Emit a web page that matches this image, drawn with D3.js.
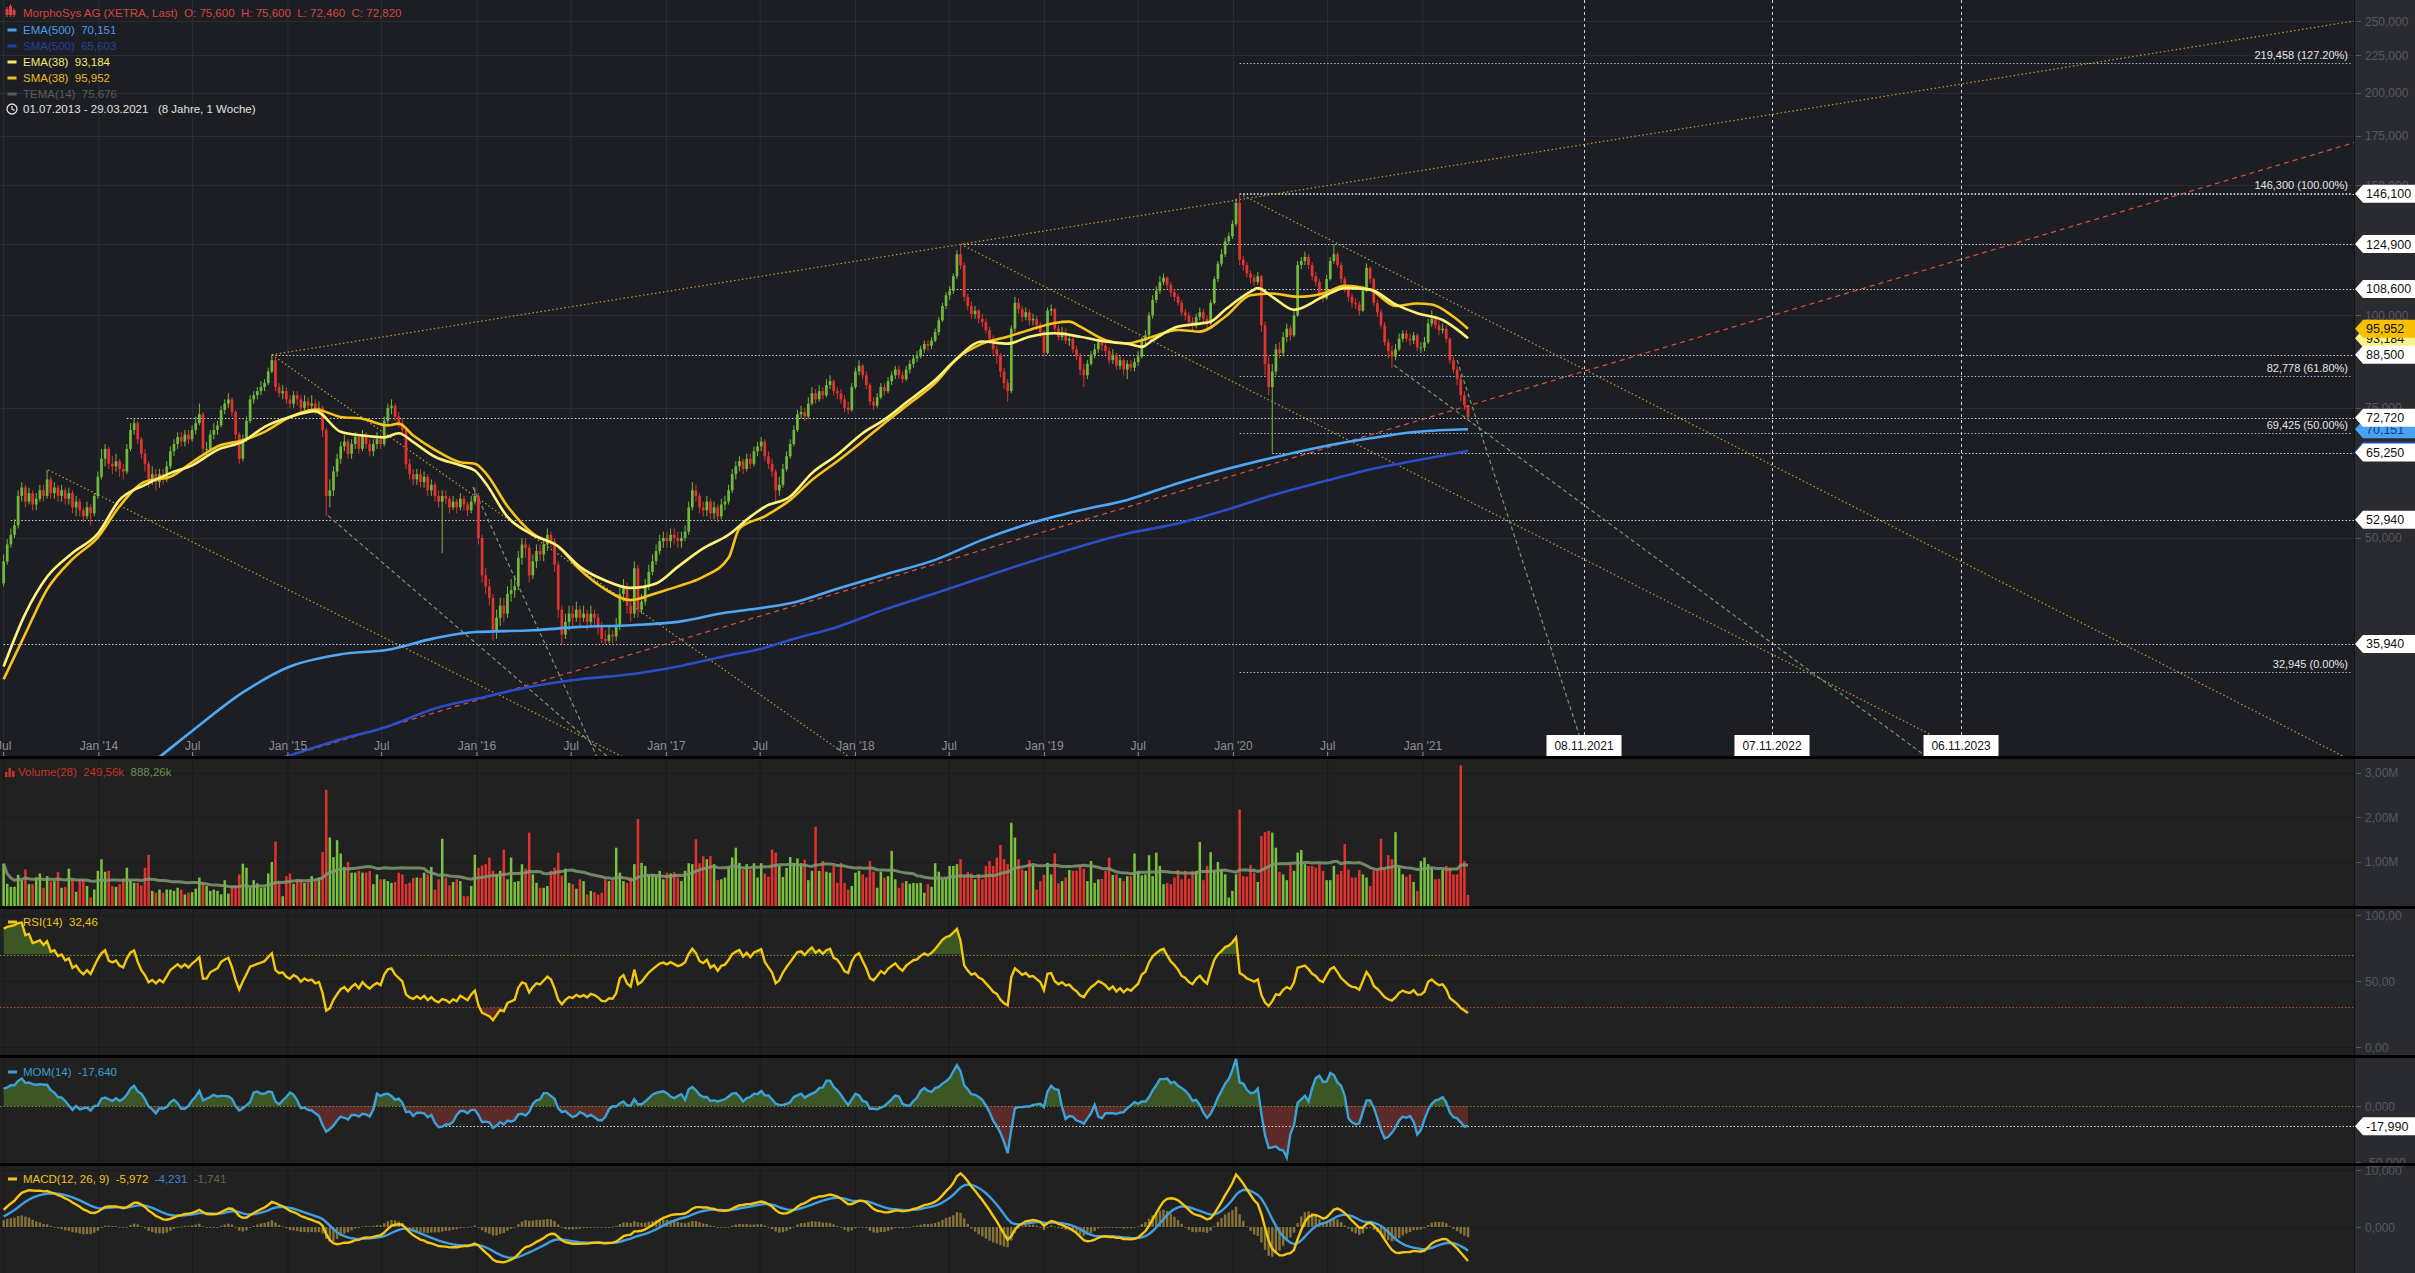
<!DOCTYPE html>
<html>
<head>
<meta charset="utf-8">
<title>MorphoSys AG (XETRA)</title>
<script src="https://cdn.jsdelivr.net/npm/d3@7"></script>
<style>
  html, body { margin: 0; padding: 0; background: #000; overflow: hidden; }
  svg { display: block; }
  text { font-family: 'Liberation Sans', Arial, sans-serif; white-space: pre; }
</style>
</head>
<body>
<svg id="chart" width="2415" height="1273"></svg>
<script>
// weekly candles, first week = 01.07.2013, open of a week = close of the week before
const firstWeek = '2013-07-01'
// closes of the 14 weeks before the first candle (needed by RSI/MOM/MACD)
const closesBefore = [31, 32.5, 32, 33.5, 34.5, 34, 35.5, 36.5, 36, 37.5, 38.5, 38, 41, 43.4]

const closes = [
  46.5, 49, 50.5, 52, 57, 58.5, 56, 57.5, 55.5, 56.5,
  58, 57, 60, 57.5, 58.5, 57, 58, 56.5, 57.5, 55,
  56, 54.5, 53.5, 55, 54, 57, 60.5, 64, 66, 63,
  62.5, 63.5, 62, 61.5, 66, 70, 71.5, 68, 65, 63,
  60, 61, 59.5, 61, 60, 62.5, 65.5, 67, 68.5, 67.5,
  69, 68, 70, 71.5, 73.5, 66, 66, 69, 70, 71,
  74.5, 76, 77, 74, 69, 64, 68, 72, 77, 78,
  79, 80, 81, 84, 87, 80, 78.5, 79, 77, 76,
  78, 77, 75, 76.5, 75.5, 76, 74.5, 75, 70, 57,
  58, 61.5, 64, 66.5, 67.5, 65, 67, 68.5, 66, 69,
  67, 65.5, 67, 68, 67, 72, 75, 75.5, 73, 71.5,
  70, 63, 61, 60, 61, 59.5, 60.5, 58, 59, 57,
  56, 57, 56.5, 55, 56, 55, 56.5, 55.5, 54.5, 56,
  57, 50, 44.5, 43, 41.5, 37.5, 39, 40.5, 39.5, 42,
  42.5, 43, 47, 49, 48.5, 44.5, 46.5, 48, 47.5, 49,
  50.5, 49.5, 46, 40, 37, 38.5, 39.5, 39, 40, 39,
  39.5, 38.5, 39.5, 39, 38, 36.5, 36.3, 37, 36.8, 38,
  42, 43, 40.5, 39.5, 45.5, 40, 41, 43, 45, 46.5,
  48, 49.5, 50, 49.5, 50.5, 50, 49.5, 50, 51, 55,
  58, 57, 55, 54.5, 56, 54, 55, 53.5, 55.5, 56,
  58, 61, 62.5, 63.5, 62, 64, 63, 65.5, 66.5, 67.5,
  64.5, 63, 61.5, 58, 59, 62, 64.5, 67, 70, 73.5,
  74, 73, 76, 78.5, 77, 79, 78, 80.5, 81.5, 79,
  78.5, 77, 75, 74.5, 80, 84, 85.5, 83, 80.5, 76.5,
  75.5, 77.5, 80, 79, 81.5, 83, 84.5, 83, 82, 84.5,
  86, 87.5, 88, 90, 91.5, 91, 92.5, 95, 98.5, 103,
  106.5, 108, 113, 121, 117, 106, 103, 100.5, 101.5, 99,
  98, 95.5, 93, 90, 88.5, 84, 81, 79, 96, 104,
  102, 99.5, 101, 98.5, 99, 97, 95, 89, 101.5, 102,
  96, 93.5, 95, 92.5, 93, 90, 88, 84.5, 83, 86,
  88.5, 90, 92, 91, 89.5, 87, 88.5, 85.5, 87, 84.5,
  86, 85, 86.5, 88, 92.5, 94, 100, 105, 108, 111,
  112.5, 110, 107.5, 106, 104, 101, 100, 98, 97, 99.5,
  101, 99, 97.5, 104, 112, 117.5, 121, 126, 128, 133,
  142, 119, 117, 114, 112.5, 111, 113, 97, 86, 80,
  84, 90, 89, 93.5, 96, 94, 100, 117, 118.5, 120,
  117, 113, 111, 107, 105.5, 112, 118.5, 121, 117, 112,
  109, 106, 104, 103.5, 101.5, 108, 116, 112, 104, 101,
  97, 92, 89.5, 88, 90, 93, 94.5, 93, 92.5, 94,
  90.5, 90.5, 92, 97.5, 99, 97, 95.5, 96, 93, 87,
  84.5, 82, 78, 75.6, 72.82
]

const highs = [
  47.5, 49.8, 51.5, 53, 58, 59.5, 59, 58.5, 58, 57.5,
  59, 59, 61.8, 60.5, 59.5, 59, 59, 58.5, 58.5, 58,
  57, 56.5, 55, 56, 55.5, 57.5, 61.5, 66, 67, 66.5,
  64.5, 65, 64, 63, 67, 71.5, 72.7, 72, 68.5, 66,
  63.5, 62.5, 62, 62, 62, 63.5, 66.5, 68, 69.5, 69.5,
  70, 70, 71, 73, 76, 74, 67.5, 70, 71.5, 72,
  75.5, 77, 78.5, 77.5, 74.5, 69.5, 69, 73, 78, 79,
  80, 81.5, 82, 85, 88.5, 87.5, 81, 80.5, 80, 78,
  79, 79, 78, 78, 77.5, 78, 77, 76.5, 75.5, 70.5,
  60, 62.5, 65, 67.5, 69, 68, 68, 69.5, 69, 70,
  69.5, 68, 68, 69.5, 69, 73, 76, 77, 76, 74,
  72.5, 70.5, 64, 62, 62, 62, 61.5, 61, 60, 59.5,
  58, 58, 58, 57, 57, 56.5, 57.5, 57, 56, 57,
  58.5, 57.5, 50.5, 45.5, 44, 42, 40, 41.5, 41.5, 43,
  44, 44.5, 48, 50, 50, 49, 47.5, 49, 49, 50,
  51.5, 51, 50, 46.5, 40.5, 39.5, 40.5, 40.5, 41, 40.5,
  40.5, 40, 40.5, 40, 39.5, 38.5, 37.5, 38, 37.5, 39,
  43, 44, 43.5, 41, 46.5, 46, 42, 44, 46, 47.5,
  49, 50.5, 51, 51, 51.5, 51.5, 51, 51, 52, 56,
  59.5, 59, 57.5, 56, 57, 56.5, 56, 55.5, 56.5, 57,
  59, 62, 63.5, 64.5, 64, 65, 65, 66.5, 67.5, 68.5,
  68, 65.5, 64, 62, 60.5, 63, 65.5, 68, 71, 74.5,
  75.5, 75, 77.5, 80, 79.5, 80.5, 80, 82, 83, 82,
  80, 79.5, 78, 76.5, 81, 85, 87, 86, 84, 81,
  77.5, 78.5, 81, 81, 82.5, 84, 85.5, 85.5, 84, 85.5,
  87, 88.5, 89.5, 91, 92.5, 92.5, 93.5, 96, 99.5, 104,
  107.5, 109.5, 114, 122.5, 124.9, 118, 107, 104.5, 103, 102,
  100.5, 99, 96.5, 94, 91, 89, 85, 82, 97, 106,
  105.5, 103, 102.5, 102, 100.5, 100, 98, 95.5, 102.5, 103.5,
  102.5, 97, 96.5, 96, 94.5, 94, 91, 89, 86, 87,
  89.5, 91.5, 93.5, 93, 92, 90.5, 90, 89, 88, 87.5,
  87, 87, 87.5, 89.5, 93.5, 95.5, 101, 106.5, 109.5, 113,
  114, 113, 111, 108.5, 107, 105, 102, 101, 99.5, 100.5,
  102.5, 102, 100, 105, 113, 118.5, 123, 127.5, 129.5, 134.5,
  144, 146.1, 120.5, 118, 115, 113.5, 114.5, 113.5, 98, 88,
  86, 91.5, 92, 95, 97.5, 97, 102, 118.5, 120, 122,
  121, 118, 114.5, 112, 108.5, 113.5, 120, 124.9, 122, 118,
  113, 110, 107, 105.5, 104.5, 109.5, 117.6, 116.5, 112.5, 105,
  102, 98, 93, 91, 91.5, 94.5, 95.5, 95.5, 94.5, 95,
  94.5, 92, 93.5, 99, 101.6, 100, 98.5, 97.5, 97, 93.5,
  88, 85.5, 83, 79, 75.6
]

const lows = [
  43, 46, 48.5, 50, 51.5, 56, 55, 55.5, 54.5, 54.5,
  56, 56, 56.5, 56.5, 56.5, 56, 56, 55.5, 55.5, 54,
  53.5, 53.5, 52.5, 53, 52, 53.5, 56.5, 60, 62.5, 62,
  61, 61.5, 60.5, 60, 61, 65.5, 69, 67, 64, 61.5,
  58.5, 59, 58, 58.5, 59, 59.5, 62, 64.5, 66, 66.5,
  66.5, 67, 67.5, 69, 71, 65, 64.5, 65.5, 68, 69,
  70.5, 73.5, 75, 73, 68, 63, 63.5, 67.5, 71.5, 76,
  77, 78, 79, 80.5, 83.5, 79, 77.5, 77, 76, 75,
  75, 75.5, 74, 74.5, 74, 74.5, 73.5, 73.5, 68.5, 53.6,
  55, 57, 60.5, 63, 65.5, 64, 64, 66, 65, 65.5,
  66, 64.5, 64.5, 66, 66, 66.5, 71, 73.5, 72, 70.5,
  69, 62, 60, 59, 59, 58.5, 58.5, 57, 57, 56,
  55, 47.7, 55.5, 54, 54.5, 54, 54.5, 54.5, 53.5, 54,
  55.5, 49, 43.5, 42, 40.5, 36.3, 36.5, 38, 38.5, 39,
  41, 41.5, 42.5, 46, 47, 43.5, 44, 45.5, 46.5, 46.5,
  48, 48.5, 45, 39, 35.94, 36.5, 37.5, 38, 38.5, 38,
  38.5, 37.5, 38, 38, 37, 36, 35.95, 36, 36, 36.3,
  37.5, 41, 39.5, 38.5, 39, 39, 39.5, 40.5, 42.5, 44.5,
  46, 47.5, 48.5, 48.5, 48.5, 49, 48.5, 48.5, 49.5, 50.5,
  54.5, 56, 54, 53.5, 53.5, 53, 53, 52.5, 53, 54.5,
  55.5, 57.5, 60, 61.5, 61, 61.5, 62, 62.5, 64.5, 65.5,
  63.5, 62, 60.5, 56, 57, 58.5, 61.5, 64, 66.5, 69.5,
  72.5, 72, 72.5, 75.5, 76, 76.5, 77, 77.5, 79.5, 78,
  77, 76, 74, 73.5, 74, 79.5, 83, 82, 79.5, 75.5,
  74.5, 75, 77, 78, 78.5, 80.5, 82, 82, 81, 81.5,
  83.5, 85, 86.5, 87.5, 89, 89.5, 90, 92, 94, 98,
  102, 105, 107, 112, 115.5, 104.5, 101.5, 99, 99, 97.5,
  96.5, 94.5, 91.5, 88.5, 86, 82.5, 79.5, 76.5, 78.5, 95,
  100.5, 98, 98.5, 97, 97, 95.5, 93.5, 88, 88.5, 100,
  95, 92.5, 92.5, 91.5, 91, 89, 87, 83, 80, 82,
  85.5, 87.5, 89, 89.5, 88.5, 86, 86, 84.5, 84.5, 83,
  82, 84, 84, 85.5, 87.5, 91.5, 93.5, 99, 104, 107,
  110, 108.5, 106, 104.5, 103, 100, 98.5, 96.5, 95.5, 96,
  98.5, 98, 95.5, 97, 103.5, 111, 116.5, 120, 124.5, 127,
  132, 117, 115, 112.5, 110.5, 109.5, 110, 95, 83, 78,
  65.25, 83, 87.5, 88, 92, 92.5, 93.5, 99.5, 115.5, 117,
  115.5, 111.5, 109.5, 105.5, 104, 105, 111.5, 117.5, 116, 110.5,
  107.5, 104.5, 102.5, 102, 100, 101, 107.5, 110.5, 103, 99.5,
  96, 91, 87.5, 85, 87, 89.5, 92, 92, 91, 91.5,
  89.5, 89, 89.5, 91.5, 96.5, 96, 94, 94.5, 92, 86,
  83.5, 80.5, 76.5, 74.5, 72.46
]

// thousand shares per week
const volumes = [
  950, 500, 430, 430, 700, 580, 820, 490, 490, 640,
  730, 410, 670, 550, 560, 760, 410, 430, 840, 580,
  320, 580, 580, 450, 190, 370, 790, 1050, 770, 790,
  450, 430, 490, 620, 860, 580, 520, 520, 460, 860,
  1150, 340, 300, 370, 300, 370, 370, 340, 410, 370,
  260, 300, 310, 390, 640, 540, 450, 340, 370, 340,
  260, 580, 280, 450, 460, 710, 950, 860, 410, 580,
  510, 410, 420, 730, 990, 1450, 520, 220, 670, 730,
  500, 600, 600, 520, 560, 670, 560, 640, 1210, 2610,
  1540, 1100, 1480, 1180, 880, 990, 750, 750, 790, 750,
  750, 790, 490, 710, 600, 600, 560, 520, 540, 750,
  710, 490, 520, 630, 640, 630, 750, 710, 880, 370,
  600, 1510, 640, 460, 540, 600, 560, 220, 220, 450,
  1150, 860, 910, 940, 1090, 790, 710, 790, 1270, 600,
  1090, 540, 560, 940, 840, 1650, 710, 520, 410, 410,
  450, 790, 860, 1200, 680, 840, 520, 490, 390, 600,
  560, 260, 340, 310, 260, 300, 600, 560, 580, 1310,
  750, 560, 520, 650, 940, 1950, 970, 900, 690, 710,
  710, 790, 600, 750, 730, 760, 640, 560, 790, 960,
  940, 1500, 960, 1120, 1050, 1120, 940, 580, 600, 640,
  860, 1090, 1310, 970, 820, 940, 820, 960, 640, 960,
  730, 660, 1270, 1200, 900, 650, 860, 1100, 970, 1070,
  960, 1040, 580, 790, 1780, 790, 1010, 770, 750, 900,
  520, 970, 520, 370, 450, 750, 790, 710, 640, 1010,
  770, 410, 770, 640, 670, 1240, 600, 410, 520, 560,
  500, 520, 510, 520, 300, 490, 430, 960, 770, 610,
  640, 900, 900, 940, 1050, 660, 760, 730, 600, 710,
  600, 900, 1010, 900, 1090, 1370, 1050, 940, 1870, 1540,
  1050, 820, 790, 1030, 900, 370, 560, 700, 970, 710,
  1180, 510, 560, 640, 810, 790, 790, 910, 840, 560,
  1010, 520, 600, 610, 790, 1090, 700, 710, 630, 560,
  670, 670, 1180, 790, 690, 710, 1140, 670, 1200, 900,
  490, 520, 490, 640, 810, 600, 790, 610, 790, 790,
  1440, 580, 900, 1210, 790, 990, 820, 710, 190, 340,
  710, 2170, 670, 660, 920, 750, 540, 1570, 1660, 1690,
  1650, 1310, 770, 710, 580, 940, 790, 1200, 1260, 940,
  900, 900, 860, 940, 790, 580, 580, 900, 710, 790,
  1390, 820, 640, 640, 810, 710, 640, 450, 790, 790,
  1510, 860, 1140, 1050, 1660, 860, 710, 660, 710, 540,
  340, 1010, 1090, 940, 860, 600, 610, 810, 900, 860,
  710, 710, 3160, 1010, 250
]

// moving averages: sample week index / value
const ema38Weeks = [0, 6, 12, 19, 26, 32, 39, 46, 52, 59, 66, 72, 79, 86, 93, 99, 105, 109, 113, 119, 126, 130, 133, 139, 146, 153, 159, 166, 173, 180, 186, 193, 200, 206, 210, 217, 223, 230, 237, 243, 250, 257, 262, 270, 277, 283, 290, 297, 304, 310, 314, 317, 324, 330, 333, 337, 344, 346, 350, 356, 364, 370, 377, 384, 390, 397, 404]
const ema38 = [33.5, 39.5, 44.3, 47.7, 50.7, 56.3, 59, 61.2, 62.7, 65.8, 67.5, 70.7, 72.9, 74.2, 69.6, 68.8, 68.4, 69.3, 67.4, 64.4, 62.7, 61.7, 59.3, 53.4, 50.5, 48.7, 45.7, 43.8, 42.8, 43.4, 45.7, 48.4, 50.5, 53.4, 55.1, 56.9, 61.2, 64.8, 69.3, 72.3, 76.9, 81.8, 86.5, 92.2, 91.6, 93.6, 94.6, 93.6, 92.2, 91.6, 90.7, 92.6, 96.6, 97.5, 98.1, 101.8, 107.7, 108.9, 106, 101.8, 106, 108.9, 108.4, 103.5, 100.7, 98.6, 93.184]
const sma38Weeks = [0, 6, 12, 19, 26, 32, 39, 46, 52, 59, 66, 72, 79, 86, 93, 99, 106, 109, 113, 119, 126, 130, 133, 139, 146, 153, 159, 166, 173, 180, 186, 193, 200, 203, 210, 217, 223, 230, 237, 243, 250, 257, 263, 270, 277, 283, 290, 294, 297, 304, 310, 314, 317, 324, 330, 337, 344, 350, 357, 364, 370, 377, 384, 390, 394, 400, 404]
const sma38 = [32.2, 37.1, 42.6, 46.8, 50.1, 55.2, 59.6, 60.5, 63.3, 66.5, 67.8, 69.6, 72.9, 74.6, 72.9, 72.5, 71, 71.4, 68.8, 65.8, 63.3, 63, 61.2, 55.2, 50.7, 48.7, 45.3, 42.6, 41.2, 42.1, 43, 44.3, 47, 51.5, 53.5, 56.3, 59.9, 63.5, 67.6, 71.5, 76.1, 81, 87.4, 91.6, 93.6, 95.6, 97.7, 98.1, 96.6, 92.6, 91.6, 92.6, 93.6, 95.6, 95.1, 99.6, 106.5, 107.1, 106, 107.1, 109.7, 108.4, 103, 103.8, 103.5, 99.6, 95.952]
const ema500Weeks = [30, 44, 52, 66, 79, 93, 106, 119, 130, 146, 159, 173, 186, 199, 209, 217, 230, 243, 257, 270, 283, 297, 310, 324, 337, 350, 364, 377, 390, 404]
const ema500 = [22.5, 25.5, 27.4, 30.9, 33.5, 34.8, 35.3, 36.6, 37.3, 37.5, 37.9, 38.1, 38.5, 39.6, 40.2, 40.8, 42.7, 44.6, 46.7, 49.7, 52.3, 54.5, 56.3, 59.3, 61.9, 64.2, 66.5, 68.2, 69.6, 70.151]
const sma500Weeks = [70, 80, 93, 106, 119, 133, 146, 159, 173, 186, 199, 209, 217, 230, 243, 257, 270, 283, 297, 310, 324, 337, 350, 364, 377, 390, 404]
const sma500 = [24.6, 25.5, 26.7, 27.8, 29.4, 30.5, 31.5, 32.2, 32.7, 33.5, 34.6, 35.4, 36.4, 37.9, 40, 42.1, 44.2, 46.4, 48.7, 50.7, 52.3, 54.5, 57.1, 59.6, 61.9, 63.7, 65.603]

// drawings: horizontal levels (price, first week), log fibonacci, trend lines [week1, price1, week2, price2]
const levels = [146.1, 124.9, 108.6, 88.5, 72.72, 65.25, 52.94, 35.94]
const levelStart = [341, 264, 261, 74, 34, 350, 2, 0]
const fibLevels = [219.458, 146.3, 82.778, 69.425, 32.945]
const fibPct = ['127.20%', '100.00%', '61.80%', '50.00%', '0.00%']
const fibStart = 341
const yellowLines = [[74, 88.5, 648, 250], [74, 88.5, 232.7, 25.4], [12.3, 61.8, 170, 25.4], [264, 124.9, 543, 25.4], [341, 146.1, 645, 25.4]]
const greenLines = [[89.5, 53.6, 166.2, 25.4], [129.5, 58.6, 163.5, 25.4], [383.6, 85.6, 530, 25.4], [401, 87, 436.5, 25.4]]
const redLines = [[79.3, 25.4, 648.7, 171.5]]
const projDates = ['2021-11-08', '2022-11-07', '2023-11-06']
const projLabels = ['08.11.2021', '07.11.2022', '06.11.2023']
const momLevel = -17.99
const momLevelStart = 120

// axis ticks
const priceTicks = [50, 75, 100, 125, 150, 175, 200, 225, 250]
const volTicks = [1000, 2000, 3000]
const rsiTicks = [0, 50, 100]
const momTicks = [0, -50]
const macdTicks = [0, 10]

// legend texts
const title = 'MorphoSys AG (XETRA, Last)  O: 75,600  H: 75,600  L: 72,460  C: 72,820'
const maLegend = ['EMA(500)  70,151', 'SMA(500)  65,603', 'EMA(38)  93,184', 'SMA(38)  95,952', 'TEMA(14)  75,676']
const maColors = ['#4a9fe8', '#25409e', '#f1ea6c', '#e9bb22', '#5b5b5b']
const period = '01.07.2013 - 29.03.2021   (8 Jahre, 1 Woche)'
const lastValues = { volume: '249,56k', volumeMa: '888,26k', rsi: '32,46', mom: '-17,640', macd: '-5,972', signal: '-4,231', hist: '-1,741' }

const W = 2415
const PW = 2354
const svg = d3.select('#chart')
const loc = d3.formatLocale({ decimal: ',', thousands: '.', grouping: [3], currency: ['', ''], minus: '-' })
const f3 = loc.format('.3f')
const f2 = loc.format('.2f')
const last = (a) => a[a.length - 1]

const t0 = new Date(firstWeek + 'T00:00:00Z').getTime()
const weekDate = (w) => new Date(t0 + w * 7 * 864e5)

const x = d3.scaleUtc()
  .domain([new Date(Date.UTC(2013, 5, 24)), new Date(Date.UTC(2025, 11, 4))])
  .range([0, PW])
const xw = (w) => x(weekDate(w))

const P = {
  main: { top: 0, bottom: 756 },
  vol: { top: 759, bottom: 906 },
  rsi: { top: 909, bottom: 1055 },
  mom: { top: 1058, bottom: 1163 },
  macd: { top: 1166, bottom: 1273 }
}
const y = d3.scaleLog().domain([25.43, 267.2]).range([755, 0])
const yv = d3.scaleLinear().domain([0, 3000]).range([906, 772.5])
const yr = d3.scaleLinear().domain([0, 100]).range([1047, 915])
const ym = d3.scaleLinear().domain([-50, 0]).range([1162, 1106])
const yd = d3.scaleLinear().domain([0, 10]).range([1227, 1170])

//* * indicators derived from the closes
const series = closesBefore.concat(closes)
const nb = closesBefore.length
const emaOf = (vals, n) => {
  const k = 2 / (n + 1)
  let e = vals[0]
  return vals.map((v, i) => (e = i ? v * k + e * (1 - k) : v))
}
const rsi = (() => {
  const n = 14
  let g = 0
  let l = 0
  const out = []
  for (let i = 1; i < series.length; i++) {
    const d = series[i] - series[i - 1]
    if (i <= n) {
      g += Math.max(d, 0) / n
      l += Math.max(-d, 0) / n
    } else {
      g = (g * (n - 1) + Math.max(d, 0)) / n
      l = (l * (n - 1) + Math.max(-d, 0)) / n
    }
    if (i >= n) out[i] = l === 0 ? 100 : 100 - 100 / (1 + g / l)
  }
  return out.slice(nb)
})()
const mom = closes.map((c, i) => c - series[i])
const e12 = emaOf(series, 12)
const e26 = emaOf(series, 26)
const macdAll = e12.map((v, i) => v - e26[i])
const sigAll = emaOf(macdAll, 9)
const macd = macdAll.slice(nb)
const signal = sigAll.slice(nb)
const hist = macd.map((v, i) => v - signal[i])
const volMa = volumes.map((v, i) => d3.mean(volumes.slice(Math.max(0, i - 27), i + 1)))

const candles = closes.map((c, i) => {
  const o = i ? closes[i - 1] : closesBefore[nb - 1]
  return { i, o, c, h: highs[i], l: lows[i], up: c >= o }
})

//* * panels
svg.append('rect').attr('width', W).attr('height', 1273).attr('fill', '#000')
Object.entries(P).forEach(([k, p]) => {
  svg.append('rect')
    .attr('x', 0).attr('y', p.top)
    .attr('width', PW).attr('height', p.bottom - p.top)
    .attr('fill', k === 'main' ? '#1c1e24' : '#212121')
  svg.append('rect')
    .attr('x', PW).attr('y', p.top)
    .attr('width', W - PW).attr('height', p.bottom - p.top)
    .attr('fill', '#2a2b30')
  svg.append('line')
    .attr('x1', PW + 0.5).attr('x2', PW + 0.5)
    .attr('y1', p.top).attr('y2', p.bottom)
    .attr('stroke', '#111216')
  svg.append('clipPath').attr('id', 'clip-' + k)
    .append('rect')
    .attr('x', 0).attr('y', p.top)
    .attr('width', PW).attr('height', p.bottom - p.top)
})

//* * grid
const xTicks = d3.utcMonth.every(6).range(new Date(Date.UTC(2013, 6, 1)), new Date(Date.UTC(2021, 1, 1)))
Object.entries(P).forEach(([k, p]) => {
  svg.append('g')
    .selectAll('line')
    .data(xTicks)
    .join('line')
    .attr('x1', (d) => x(d)).attr('x2', (d) => x(d))
    .attr('y1', p.top).attr('y2', p.bottom)
    .attr('stroke', k === 'main' ? '#2a2d36' : '#1a1a1a')
})
const hGrid = (ticks, scale, color) => {
  svg.append('g')
    .selectAll('line')
    .data(ticks)
    .join('line')
    .attr('x1', 0).attr('x2', PW)
    .attr('y1', (d) => Math.round(scale(d)) + 0.5).attr('y2', (d) => Math.round(scale(d)) + 0.5)
    .attr('stroke', color)
}
hGrid(priceTicks, y, '#2a2d36')
hGrid(volTicks, yv, '#1a1a1a')
hGrid(rsiTicks, yr, '#1a1a1a')
hGrid(macdTicks, yd, '#1a1a1a')

//* * main panel
const gm = svg.append('g').attr('clip-path', 'url(#clip-main)')

// horizontal levels
gm.append('g')
  .selectAll('line')
  .data(levels)
  .join('line')
  .attr('x1', (d, i) => xw(levelStart[i])).attr('x2', PW)
  .attr('y1', (d) => Math.round(y(d)) + 0.5).attr('y2', (d) => Math.round(y(d)) + 0.5)
  .attr('stroke', '#d4d5d8')
  .attr('stroke-dasharray', '1.5,2')
// fibonacci
gm.append('g')
  .selectAll('line')
  .data(fibLevels)
  .join('line')
  .attr('x1', xw(fibStart)).attr('x2', PW - 3)
  .attr('y1', (d) => Math.round(y(d)) + 0.5).attr('y2', (d) => Math.round(y(d)) + 0.5)
  .attr('stroke', '#a8bedc')
  .attr('stroke-dasharray', '1.5,2')

// trend lines, extended to the right and clipped
const trend = (t) => {
  const [w1, p1, w2, p2] = t
  const wEnd = 700
  const pEnd = p1 * Math.pow(p2 / p1, (wEnd - w1) / (w2 - w1))
  return { x1: xw(w1), y1: y(p1), x2: xw(wEnd), y2: y(pEnd) }
}
const drawTrends = (list, color, dash, width) => {
  gm.append('g')
    .selectAll('line')
    .data(list.map(trend))
    .join('line')
    .attr('x1', (d) => d.x1).attr('y1', (d) => d.y1)
    .attr('x2', (d) => d.x2).attr('y2', (d) => d.y2)
    .attr('stroke', color)
    .attr('stroke-width', width)
    .attr('stroke-dasharray', dash)
}
drawTrends(yellowLines, '#b3a23c', '1.5,2.5', 1.2)
drawTrends(greenLines, '#6f9c72', '4,3', 1.2)
drawTrends(redLines, '#d2514c', '5,4', 1.2)

// candles
const cg = gm.append('g')
cg.selectAll('line')
  .data(candles)
  .join('line')
  .attr('x1', (d) => xw(d.i)).attr('x2', (d) => xw(d.i))
  .attr('y1', (d) => y(d.h)).attr('y2', (d) => y(d.l))
  .attr('stroke', (d) => d.up ? '#72b93b' : '#e1342f')
  .attr('stroke-width', 1)
cg.selectAll('rect')
  .data(candles)
  .join('rect')
  .attr('x', (d) => xw(d.i) - 1.35)
  .attr('width', 2.7)
  .attr('y', (d) => y(Math.max(d.o, d.c)))
  .attr('height', (d) => Math.max(1, Math.abs(y(d.o) - y(d.c))))
  .attr('fill', (d) => d.up ? '#72b93b' : '#e1342f')

// moving averages
const maLine = (weeks, vals, color) => {
  gm.append('path')
    .datum(weeks.map((w, i) => [xw(w), y(vals[i])]))
    .attr('d', d3.line().curve(d3.curveMonotoneX))
    .attr('fill', 'none')
    .attr('stroke', color)
    .attr('stroke-width', 2.6)
}
maLine(sma500Weeks, sma500, '#2c4dc6')
maLine(ema500Weeks, ema500, '#4ea8f6')
maLine(sma38Weeks, sma38, '#f6c21c')
maLine(ema38Weeks, ema38, '#fff27c')

// projected dates
gm.append('g')
  .selectAll('line')
  .data(projDates)
  .join('line')
  .attr('x1', (d) => Math.round(x(new Date(d + 'T00:00:00Z'))) + 0.5)
  .attr('x2', (d) => Math.round(x(new Date(d + 'T00:00:00Z'))) + 0.5)
  .attr('y1', 0).attr('y2', 735)
  .attr('stroke', '#cfd0d3')
  .attr('stroke-dasharray', '3,3')

// fib labels
svg.append('g')
  .selectAll('text')
  .data(fibLevels)
  .join('text')
  .attr('x', PW - 6)
  .attr('y', (d) => y(d) - 4)
  .attr('text-anchor', 'end')
  .attr('font-size', 11)
  .attr('fill', '#e4e4e6')
  .text((d, i) => f3(d) + ' (' + fibPct[i] + ')')

// x axis labels
svg.append('g')
  .selectAll('text')
  .data(xTicks)
  .join('text')
  .attr('x', (d) => x(d))
  .attr('y', 750)
  .attr('text-anchor', 'middle')
  .attr('font-size', 12)
  .attr('fill', '#8d8f95')
  .text((d) => d.getUTCMonth() === 0 ? "Jan '" + String(d.getUTCFullYear()).slice(2) : 'Jul')
svg.append('g')
  .selectAll('line')
  .data(xTicks)
  .join('line')
  .attr('x1', (d) => x(d)).attr('x2', (d) => x(d))
  .attr('y1', 752).attr('y2', 756)
  .attr('stroke', '#8d8f95')
const pd = svg.append('g')
  .selectAll('g')
  .data(projDates)
  .join('g')
  .attr('transform', (d) => `translate(${Math.round(x(new Date(d + 'T00:00:00Z')))},0)`)
pd.append('rect').attr('x', -37.5).attr('y', 735).attr('width', 75).attr('height', 21).attr('fill', '#fff')
pd.append('text')
  .attr('y', 750).attr('text-anchor', 'middle')
  .attr('font-size', 12).attr('fill', '#111')
  .text((d, i) => projLabels[i])

//* * volume panel
const gv = svg.append('g').attr('clip-path', 'url(#clip-vol)')
gv.selectAll('rect')
  .data(candles)
  .join('rect')
  .attr('x', (d) => xw(d.i) - 1.25)
  .attr('width', 2.5)
  .attr('y', (d) => yv(volumes[d.i]))
  .attr('height', (d) => 906 - yv(volumes[d.i]))
  .attr('fill', (d) => d.up ? '#79c23d' : '#e2332f')
gv.append('path')
  .datum(volMa)
  .attr('d', d3.line().x((d, i) => xw(i)).y((d) => yv(d)))
  .attr('fill', 'none')
  .attr('stroke', '#7f9a72')
  .attr('stroke-opacity', 0.85)
  .attr('stroke-width', 3)

//* * RSI panel
const gr = svg.append('g').attr('clip-path', 'url(#clip-rsi)')
const rsiPts = rsi.map((v, i) => [xw(i), yr(v)])
svg.append('clipPath').attr('id', 'rsi-hi').append('rect').attr('x', 0).attr('y', P.rsi.top).attr('width', PW).attr('height', yr(70) - P.rsi.top)
svg.append('clipPath').attr('id', 'rsi-lo').append('rect').attr('x', 0).attr('y', yr(30)).attr('width', PW).attr('height', P.rsi.bottom - yr(30))
gr.append('path')
  .datum(rsiPts)
  .attr('d', d3.area().x((d) => d[0]).y0(yr(70)).y1((d) => d[1]))
  .attr('fill', '#3c5626')
  .attr('clip-path', 'url(#rsi-hi)')
gr.append('path')
  .datum(rsiPts)
  .attr('d', d3.area().x((d) => d[0]).y0(yr(30)).y1((d) => d[1]))
  .attr('fill', '#5c2a28')
  .attr('clip-path', 'url(#rsi-lo)')
gr.append('line').attr('x1', 0).attr('x2', PW).attr('y1', Math.round(yr(70)) + 0.5).attr('y2', Math.round(yr(70)) + 0.5)
  .attr('stroke', '#7d8c3c').attr('stroke-dasharray', '1.5,2')
gr.append('line').attr('x1', 0).attr('x2', PW).attr('y1', Math.round(yr(30)) + 0.5).attr('y2', Math.round(yr(30)) + 0.5)
  .attr('stroke', '#b04a42').attr('stroke-dasharray', '1.5,2')
gr.append('path')
  .datum(rsiPts)
  .attr('d', d3.line())
  .attr('fill', 'none')
  .attr('stroke', '#f2c70c')
  .attr('stroke-width', 2.4)

//* * MOM panel
const gmo = svg.append('g').attr('clip-path', 'url(#clip-mom)')
const momPts = mom.map((v, i) => [xw(i), ym(v)])
svg.append('clipPath').attr('id', 'mom-hi').append('rect').attr('x', 0).attr('y', P.mom.top).attr('width', PW).attr('height', ym(0) - P.mom.top)
svg.append('clipPath').attr('id', 'mom-lo').append('rect').attr('x', 0).attr('y', ym(0)).attr('width', PW).attr('height', P.mom.bottom - ym(0))
gmo.append('path')
  .datum(momPts)
  .attr('d', d3.area().x((d) => d[0]).y0(ym(0)).y1((d) => d[1]))
  .attr('fill', '#3c5626')
  .attr('clip-path', 'url(#mom-hi)')
gmo.append('path')
  .datum(momPts)
  .attr('d', d3.area().x((d) => d[0]).y0(ym(0)).y1((d) => d[1]))
  .attr('fill', '#5c2a28')
  .attr('clip-path', 'url(#mom-lo)')
gmo.append('line').attr('x1', 0).attr('x2', PW).attr('y1', Math.round(ym(0)) + 0.5).attr('y2', Math.round(ym(0)) + 0.5)
  .attr('stroke', '#7d8c3c').attr('stroke-dasharray', '1.5,2')
gmo.append('line').attr('x1', xw(momLevelStart)).attr('x2', PW).attr('y1', Math.round(ym(momLevel)) + 0.5).attr('y2', Math.round(ym(momLevel)) + 0.5)
  .attr('stroke', '#e6e6e6').attr('stroke-dasharray', '1.5,2')
gmo.append('path')
  .datum(momPts)
  .attr('d', d3.line())
  .attr('fill', 'none')
  .attr('stroke', '#3ba3d8')
  .attr('stroke-width', 2.4)

//* * MACD panel
const gd = svg.append('g').attr('clip-path', 'url(#clip-macd)')
gd.selectAll('rect')
  .data(hist)
  .join('rect')
  .attr('x', (d, i) => xw(i) - 1.2)
  .attr('width', 2.4)
  .attr('y', (d) => Math.min(yd(d), yd(0)))
  .attr('height', (d) => Math.max(0.8, Math.abs(yd(d) - yd(0))))
  .attr('fill', '#857238')
gd.append('path')
  .datum(signal)
  .attr('d', d3.line().x((d, i) => xw(i)).y((d) => yd(d)))
  .attr('fill', 'none')
  .attr('stroke', '#3f9fe0')
  .attr('stroke-width', 2.4)
gd.append('path')
  .datum(macd)
  .attr('d', d3.line().x((d, i) => xw(i)).y((d) => yd(d)))
  .attr('fill', 'none')
  .attr('stroke', '#f5c611')
  .attr('stroke-width', 2.4)

//* * right axes
const axisLabels = (ticks, scale, fmt) => {
  const g = svg.append('g')
  g.selectAll('line')
    .data(ticks)
    .join('line')
    .attr('x1', PW + 2).attr('x2', PW + 7)
    .attr('y1', (d) => Math.round(scale(d)) + 0.5).attr('y2', (d) => Math.round(scale(d)) + 0.5)
    .attr('stroke', '#55575e')
  g.selectAll('text')
    .data(ticks)
    .join('text')
    .attr('x', PW + 11)
    .attr('y', (d) => scale(d) + 4.5)
    .attr('font-size', 12)
    .attr('fill', '#56585f')
    .text(fmt)
}
axisLabels(priceTicks, y, f3)
axisLabels(volTicks, yv, (d) => f2(d / 1000) + 'M')
axisLabels(rsiTicks, yr, f2)
axisLabels(momTicks, ym, f3)
axisLabels(macdTicks, yd, f3)

const tag = (yy, txt, bg, fg) => {
  const g = svg.append('g')
  g.append('path')
    .attr('d', `M${PW + 1},${yy} L${PW + 9},${yy - 9} L${W},${yy - 9} L${W},${yy + 9} L${PW + 9},${yy + 9} Z`)
    .attr('fill', bg)
  g.append('text')
    .attr('x', PW + 12)
    .attr('y', yy + 4.5)
    .attr('font-size', 12.5)
    .attr('fill', fg)
    .text(txt)
}
const white = (v) => tag(y(v), f3(v), '#ffffff', '#111111')
;[146.1, 124.9, 108.6, 52.94, 35.94].forEach(white)
tag(y(last(ema38)), f3(last(ema38)), '#fbf28c', '#111111')
tag(y(last(sma38)), f3(last(sma38)), '#f6c000', '#111111')
white(88.5)
tag(y(last(sma500)), f3(last(sma500)), '#2a46b2', '#0d1a4a')
white(65.25)
tag(y(last(ema500)), f3(last(ema500)), '#4aa2f2', '#17387e')
white(72.72)
tag(ym(momLevel), f3(momLevel), '#ffffff', '#111111')

//* * panel separators on top
;[[756, 3], [906, 3], [1055, 3], [1163, 3]].forEach(([top, h]) => {
  svg.append('rect').attr('x', 0).attr('y', top).attr('width', W).attr('height', h).attr('fill', '#000')
})

//* * legends
const lg = svg.append('g')
const icon = lg.append('g').attr('fill', '#d8453d')
;[[7, 9, 6], [10.5, 6, 9], [14, 10, 5]].forEach(([cx, top, h]) => {
  icon.append('rect').attr('x', cx - 0.5).attr('y', top - 2).attr('width', 1).attr('height', h + 4)
  icon.append('rect').attr('x', cx - 1.5).attr('y', top).attr('width', 3).attr('height', h)
})
lg.append('text').attr('x', 23).attr('y', 17).attr('font-size', 11.5).attr('fill', '#d8453d').text(title)
maLegend.forEach((t, i) => {
  const yy = 30 + i * 16
  lg.append('rect').attr('x', 7.5).attr('y', yy - 1.5).attr('width', 9).attr('height', 3).attr('fill', maColors[i])
  lg.append('text').attr('x', 23).attr('y', yy + 4).attr('font-size', 11.5).attr('fill', maColors[i]).text(t)
})
lg.append('circle').attr('cx', 12).attr('cy', 109).attr('r', 5).attr('fill', 'none').attr('stroke', '#e2e2e2').attr('stroke-width', 1.3)
lg.append('path').attr('d', 'M12,106 L12,109 L14.5,110.5').attr('fill', 'none').attr('stroke', '#e2e2e2').attr('stroke-width', 1.2)
lg.append('text').attr('x', 23).attr('y', 113).attr('font-size', 11.5).attr('fill', '#e2e2e2').text(period)

const vIcon = lg.append('g').attr('fill', '#c8322e')
;[[5, 5], [8.5, 9], [12, 6]].forEach(([bx, h]) => {
  vIcon.append('rect').attr('x', bx).attr('y', 777 - h).attr('width', 2.5).attr('height', h)
})
const vt = lg.append('text').attr('x', 18).attr('y', 776).attr('font-size', 11.5)
vt.append('tspan').attr('fill', '#c8322e').text('Volume(28)  ' + lastValues.volume)
vt.append('tspan').attr('fill', '#6d8f52').text('  ' + lastValues.volumeMa)

const subLegend = (yy, parts, color) => {
  lg.append('rect').attr('x', 8).attr('y', yy - 1.5).attr('width', 9).attr('height', 3).attr('fill', color)
  const t = lg.append('text').attr('x', 23).attr('y', yy + 4).attr('font-size', 11.5)
  parts.forEach(([s, c]) => t.append('tspan').attr('fill', c).text(s))
}
subLegend(922, [['RSI(14)  ' + lastValues.rsi, '#f0c419']], '#f0c419')
subLegend(1072, [['MOM(14)  ' + lastValues.mom, '#3a9fd2']], '#3a9fd2')
subLegend(1179, [['MACD(12, 26, 9)  ' + lastValues.macd, '#f0c419'], ['  ' + lastValues.signal, '#3f86cc'], ['  ' + lastValues.hist, '#6d6444']], '#f0c419')
</script>
</body>
</html>
